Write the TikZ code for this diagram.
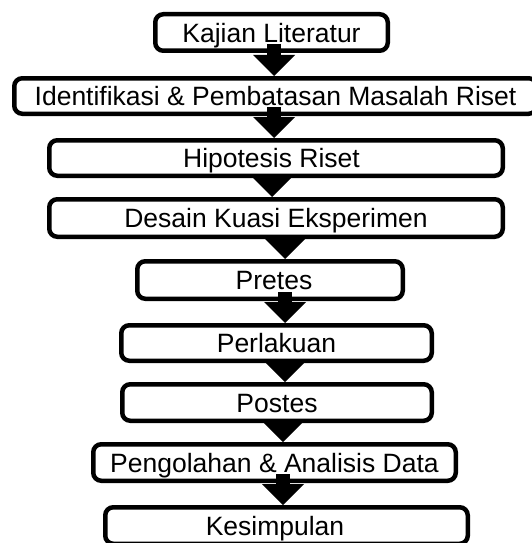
\documentclass[tikz,border=0pt]{standalone}
\usepackage{fontspec}
\setmainfont{Liberation Sans}
\usetikzlibrary{arrows.meta}

\begin{document}
\begin{tikzpicture}[x=1pt, y=-1pt,
  kotak/.style={draw=black, line width=4.5pt, rounded corners=8pt, fill=white, inner sep=0pt,
    text height=19pt, text depth=0pt, font=\fontsize{26.5}{30}\selectfont},
  panah/.style={line width=14pt, shorten <=-9pt, -{Triangle[length=21pt, width=42pt, line width=0pt]}}]
  \useasboundingbox (0, 0) rectangle (532, 543);

  % Steps
  \node[kotak, minimum width=232.5pt, minimum height=36.5pt] (kajian) at (271.5, 32.5) {Kajian Literatur};
  \node[kotak, minimum width=522.5pt, minimum height=35.5pt] (identifikasi) at (275.5, 96) {Identifikasi \& Pembatasan Masalah Riset};
  \node[kotak, minimum width=453.5pt, minimum height=35.5pt] (hipotesis) at (276, 158) {Hipotesis Riset\hspace*{9pt}};
  \node[kotak, minimum width=453.5pt, minimum height=37.5pt] (desain) at (276, 218) {Desain Kuasi Eksperimen};
  \node[kotak, minimum width=265.5pt, minimum height=37.5pt] (pretes) at (270, 280) {\hspace*{8pt}Pretes};
  \node[kotak, minimum width=310.5pt, minimum height=35.5pt] (perlakuan) at (276.5, 343) {Perlakuan};
  \node[kotak, minimum width=309.5pt, minimum height=36.5pt] (postes) at (277, 402.5) {Postes};
  \node[kotak, minimum width=362.5pt, minimum height=36.5pt] (pengolahan) at (274.5, 462.5) {Pengolahan \& Analisis Data};
  \node[kotak, minimum width=362.5pt, minimum height=36.5pt] (kesimpulan) at (286.5, 525.5) {Kesimpulan\hspace*{23pt}};

  % Arrows between steps
  \foreach \a/\b/\dx in {kajian/identifikasi/2.5, identifikasi/hipotesis/-1.5, hipotesis/desain/-4,
      desain/pretes/9, pretes/perlakuan/15, perlakuan/postes/8.5, postes/pengolahan/6,
      pengolahan/kesimpulan/8.5}
    \draw[panah] ([xshift=\dx pt]\a.south) -- ([xshift=\dx pt]\a.south |- \b.north);
\end{tikzpicture}
\end{document}
